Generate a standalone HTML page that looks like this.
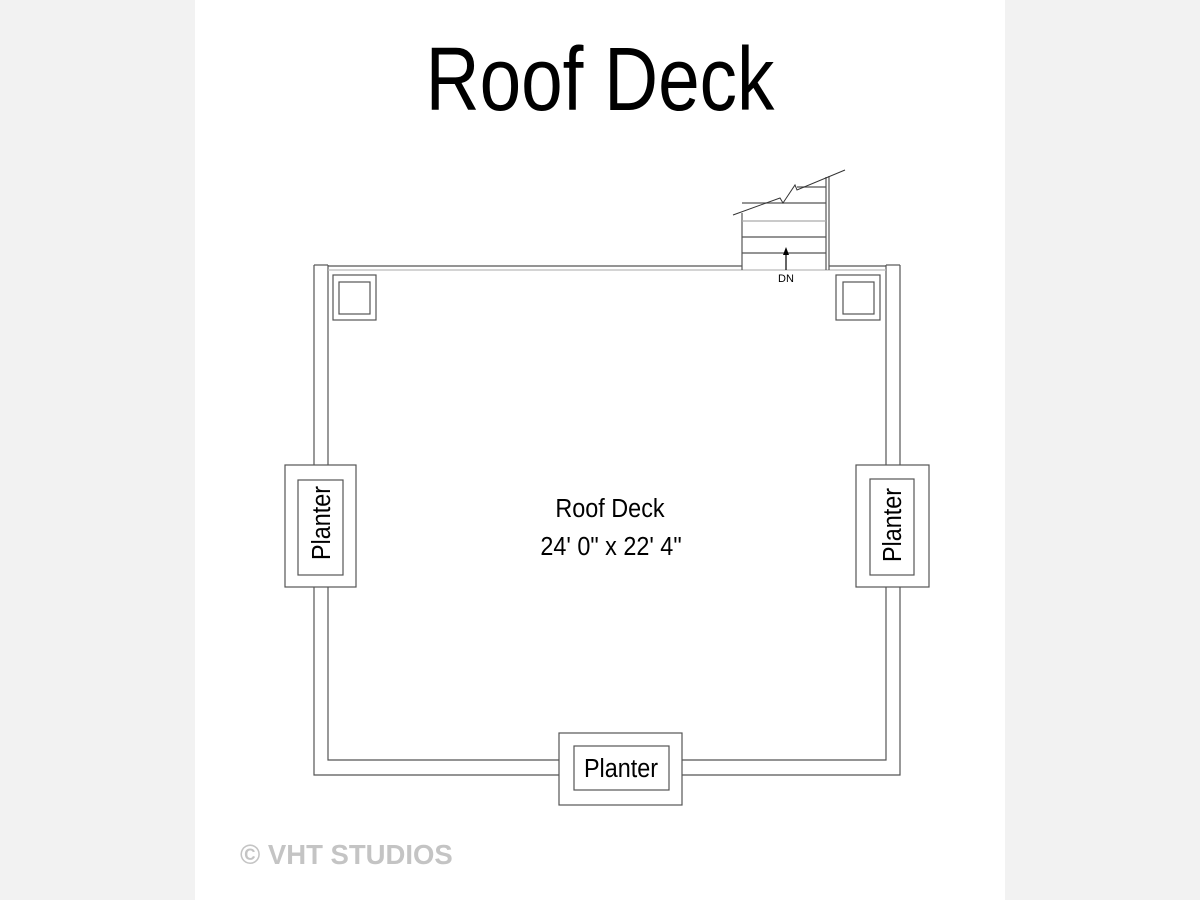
<!DOCTYPE html>
<html><head><meta charset="utf-8"><style>
html,body{margin:0;padding:0;background:#f2f2f2;}
svg{display:block;}
text{font-family:"Liberation Sans",Arial,sans-serif;}
</style></head><body>
<svg width="1200" height="900" viewBox="0 0 1200 900" xmlns="http://www.w3.org/2000/svg">
<rect x="0" y="0" width="1200" height="900" fill="#f2f2f2"/>
<rect x="195" y="0" width="810" height="900" fill="#ffffff"/>
<text x="600" y="110" font-size="90" text-anchor="middle" transform="translate(600 0) scale(0.83 1) translate(-600 0)" fill="#000">Roof Deck</text>

<g fill="none" stroke="#555" stroke-width="1.2">
<polyline points="314,265 314,775 559,775"/>
<polyline points="328,265 328,760 559,760"/>
<polyline points="900,265 900,775 682,775"/>
<polyline points="886,265 886,760 682,760"/>
<line x1="314" y1="265" x2="328" y2="265"/>
<line x1="886" y1="265" x2="900" y2="265"/>
<line x1="328" y1="266" x2="742" y2="266"/>
<line x1="829" y1="266" x2="886" y2="266"/>
<line x1="328" y1="270" x2="886" y2="270" stroke="#bbb"/>
<rect x="333" y="275" width="43" height="45"/>
<rect x="339" y="282" width="31" height="32"/>
<rect x="836" y="275" width="44" height="45"/>
<rect x="843" y="282" width="31" height="32"/>
<rect x="285" y="465" width="71" height="122" fill="#fff"/>
<rect x="298" y="480" width="45" height="95" fill="#fff"/>
<rect x="856" y="465" width="73" height="122" fill="#fff"/>
<rect x="870" y="479" width="44" height="96" fill="#fff"/>
<rect x="559" y="733" width="123" height="72" fill="#fff"/>
<rect x="574" y="746" width="95" height="44" fill="#fff"/>
<line x1="742" y1="213" x2="742" y2="270"/>
<line x1="826" y1="177" x2="826" y2="270"/>
<line x1="829" y1="176" x2="829" y2="270"/>
<line x1="742" y1="203" x2="826" y2="203"/>
<line x1="742" y1="221" x2="826" y2="221" stroke="#aaa"/>
<line x1="742" y1="237" x2="826" y2="237"/>
<line x1="742" y1="253" x2="826" y2="253"/>
<line x1="797" y1="187" x2="826" y2="187"/>
<polyline points="733,215 780,198 783,203 795,185 797,190 845,170" stroke="#333" stroke-width="1"/>
<line x1="786" y1="270" x2="786" y2="252" stroke="#000"/>
</g>
<polygon points="786,247 783,255 789,255" fill="#000"/>
<text x="786" y="282" font-size="11" text-anchor="middle">DN</text>

<text x="610" y="517" font-size="26" text-anchor="middle" transform="translate(610 0) scale(0.9 1) translate(-610 0)">Roof Deck</text>
<text x="611" y="555" font-size="26" text-anchor="middle" transform="translate(611 0) scale(0.9 1) translate(-611 0)">24' 0" x 22' 4"</text>
<text x="0" y="0" font-size="26" text-anchor="middle" transform="translate(330 523) rotate(-90) scale(0.9 1)">Planter</text>
<text x="0" y="0" font-size="26" text-anchor="middle" transform="translate(901 525) rotate(-90) scale(0.9 1)">Planter</text>
<text x="621" y="777" font-size="26" text-anchor="middle" transform="translate(621 0) scale(0.9 1) translate(-621 0)">Planter</text>

<text x="241" y="865" font-size="27.5" font-weight="bold" fill="#fff" stroke="#fff" stroke-width="2">© VHT STUDIOS</text>
<text x="240" y="864" font-size="27.5" font-weight="bold" fill="#c4c4c4">© VHT STUDIOS</text>
</svg>
</body></html>
